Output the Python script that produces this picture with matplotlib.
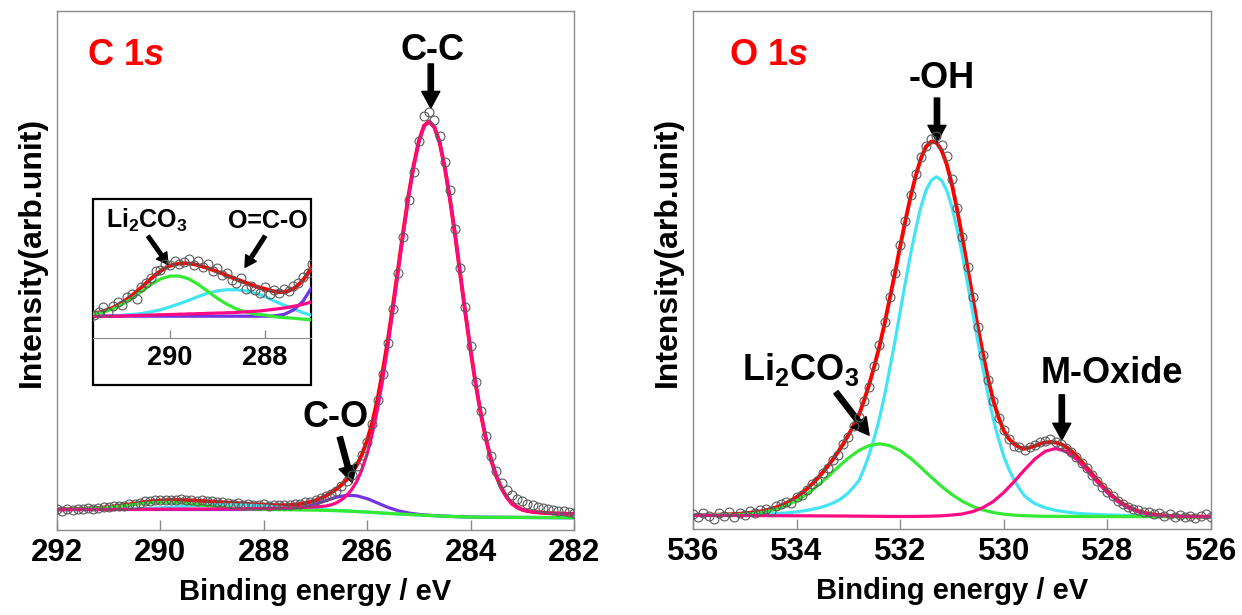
import numpy as np
import matplotlib
matplotlib.use('Agg')
import matplotlib.pyplot as plt
from matplotlib import font_manager as fm
from matplotlib.patches import Rectangle

# narrow bold font like the original (Arial Narrow); fall back if missing
try:
    fm.findfont(fm.FontProperties(family='Liberation Sans Narrow'), fallback_to_default=False)
    FONT, K = 'Liberation Sans Narrow', 1.15
except ValueError:
    FONT, K = 'Liberation Sans', 1.0

plt.rcParams['font.family'] = [FONT, 'DejaVu Sans']
plt.rcParams['font.weight'] = 'bold'
plt.rcParams['axes.labelweight'] = 'bold'
plt.rcParams['mathtext.fontset'] = 'custom'
plt.rcParams['mathtext.rm'] = FONT + ':bold'
plt.rcParams['mathtext.it'] = FONT + ':italic:bold'
plt.rcParams['mathtext.bf'] = FONT + ':bold'

# ---------------- C 1s ----------------
c1s_be = np.linspace(292, 282, 101)      # 0.1 eV steps
c1s_pts = [4.0, 3.7, 4.1, 3.9, 4.0, 4.1, 4.25, 4.1, 4.3, 4.45,
           4.35, 4.6, 4.7, 4.55, 4.95, 5.1, 5.25, 5.5, 5.55, 5.75,
           5.7, 5.85, 5.75, 5.8, 5.9, 5.7, 5.85, 5.65, 5.75, 5.5,
           5.6, 5.35, 5.45, 5.2, 5.1, 5.25, 4.9, 5.0, 4.85, 4.75,
           4.95, 4.7, 4.85, 4.75, 4.9, 4.8, 5.0, 5.1, 5.3, 5.45,
           5.75, 6.1, 6.5, 7.0, 7.6, 8.4, 9.4, 10.6, 12.3, 14.4,
           17.0, 20.5, 25.0, 30.0, 36.0, 42.5, 49.5, 56.5, 63.5, 69.0,
           75.0, 79.8, 80.5, 79.0, 76.0, 71.0, 65.5, 58.0, 50.5, 43.0,
           35.5, 28.5, 23.0, 18.2, 14.2, 11.3, 9.1, 7.7, 6.7, 6.0,
           5.5, 5.1, 4.8, 4.5, 4.3, 4.1, 3.9, 3.75, 3.6, 3.4,
           3.3]
c1s_fit = [3.97, 3.98, 4.00, 4.02, 4.05, 4.08, 4.12, 4.18, 4.24, 4.33,
           4.42, 4.54, 4.66, 4.80, 4.94, 5.09, 5.24, 5.38, 5.50, 5.60,
           5.68, 5.73, 5.76, 5.77, 5.76, 5.74, 5.70, 5.65, 5.60, 5.54,
           5.48, 5.42, 5.35, 5.28, 5.22, 5.16, 5.10, 5.04, 4.98, 4.93,
           4.89, 4.84, 4.80, 4.78, 4.78, 4.82, 4.90, 5.02, 5.19, 5.41,
           5.70, 6.10, 6.59, 7.17, 7.85, 8.65, 9.67, 10.9, 12.5, 14.6,
           17.3, 20.8, 25.2, 30.6, 36.6, 43.4, 50.5, 57.7, 64.5, 70.3,
           75.0, 77.9, 78.7, 77.6, 74.7, 69.9, 63.8, 56.9, 49.3, 41.7,
           34.6, 28.0, 22.3, 17.4, 13.4, 10.3, 8.0, 6.3, 5.1, 4.4,
           3.9, 3.65, 3.5, 3.4, 3.3, 3.25, 3.2, 3.17, 3.15, 3.12,
           3.1]
c1s_cc = [3.93, 3.93, 3.93, 3.94, 3.94, 3.94, 3.94, 3.95, 3.95, 3.95,
          3.96, 3.96, 3.97, 3.97, 3.98, 3.98, 3.99, 3.99, 4.00, 4.00,
          4.01, 4.01, 4.02, 4.02, 4.03, 4.03, 4.04, 4.04, 4.05, 4.05,
          4.06, 4.06, 4.07, 4.07, 4.08, 4.09, 4.10, 4.11, 4.12, 4.13,
          4.15, 4.17, 4.19, 4.21, 4.23, 4.26, 4.29, 4.32, 4.36, 4.40,
          4.46, 4.53, 4.62, 4.85, 5.2, 5.8, 6.6, 7.8, 9.4, 11.7,
          14.7, 18.6, 23.3, 29.0, 35.4, 42.5, 49.9, 57.3, 64.2, 70.1,
          74.9, 77.8, 78.7, 77.6, 74.7, 69.9, 63.8, 56.9, 49.3, 41.7,
          34.6, 28.0, 22.3, 17.4, 13.4, 10.3, 8.0, 6.3, 5.0, 4.3,
          3.9, 3.65, 3.5, 3.4, 3.3, 3.25, 3.2, 3.17, 3.15, 3.12,
          3.1]

c1s_be_c = np.linspace(292, 282, 51)     # 0.2 eV steps
c1s_co = [3.95, 3.95, 3.95, 3.95, 3.95, 3.95, 3.95, 3.95, 3.95, 3.95,
          3.95, 3.95, 3.95, 3.95, 3.95, 3.95, 3.95, 3.95, 3.95, 3.95,
          3.95, 3.96, 4.01, 4.16, 4.46, 4.98, 5.66, 6.31, 6.69, 6.59,
          6.04, 5.21, 4.36, 3.71, 3.28, 3.01, 2.83, 2.72, 2.63, 2.56,
          2.50, 2.46, 2.45, 2.44, 2.43, 2.42, 2.41, 2.40, 2.39, 2.38, 2.37]
c1s_ocoo = [3.95, 3.95, 3.95, 3.96, 3.97, 3.98, 4.01, 4.04, 4.10, 4.17,
            4.27, 4.38, 4.50, 4.63, 4.74, 4.82, 4.86, 4.86, 4.82, 4.74,
            4.63, 4.47, 4.33, 4.20, 4.07, 3.97, 3.87, 3.78, 3.68, 3.57,
            3.46, 3.34, 3.21, 3.10, 3.00, 2.90, 2.80, 2.70, 2.62, 2.55,
            2.50, 2.46, 2.45, 2.44, 2.43, 2.42, 2.41, 2.40, 2.39, 2.38, 2.37]
c1s_li = [3.97, 3.99, 4.02, 4.09, 4.20, 4.36, 4.56, 4.80, 5.04, 5.23,
          5.33, 5.33, 5.23, 5.04, 4.80, 4.56, 4.36, 4.20, 4.09, 4.02,
          3.99, 3.93, 3.90, 3.88, 3.85, 3.82, 3.78, 3.72, 3.65, 3.55,
          3.45, 3.33, 3.20, 3.10, 3.00, 2.90, 2.80, 2.70, 2.62, 2.55,
          2.50, 2.46, 2.45, 2.44, 2.43, 2.42, 2.41, 2.40, 2.39, 2.38, 2.37]

# ---------------- O 1s ----------------
o1s_be = np.linspace(536, 526, 101)
o1s_pts = [2.8, 2.3, 3.1, 2.5, 1.9, 3.0, 2.6, 3.3, 2.4, 3.0,
           2.7, 3.4, 3.0, 3.6, 3.9, 3.5, 4.4, 4.8, 5.3, 5.0,
           6.2, 6.6, 7.5, 8.6, 9.2, 10.8, 11.8, 13.4, 14.3, 16.4,
           17.8, 19.9, 21.6, 24.8, 27.5, 31.5, 35.5, 40.0, 44.8, 49.5,
           54.8, 59.5, 64.5, 68.5, 71.8, 74.0, 75.3, 75.8, 74.2, 72.0,
           67.5, 62.0, 56.4, 50.5, 44.8, 39.0, 33.5, 28.8, 24.8, 21.5,
           19.2, 17.3, 16.1, 15.8, 15.3, 15.9, 16.2, 16.7, 16.9, 17.3,
           16.8, 16.5, 15.6, 14.9, 13.9, 12.8, 11.7, 10.4, 9.3, 8.2,
           7.2, 6.3, 5.5, 4.8, 4.3, 3.8, 3.7, 3.2, 3.3, 2.9,
           3.0, 2.6, 2.9, 2.4, 2.7, 2.3, 2.6, 2.2, 2.5, 2.8,
           2.4]
o1s_fit = [2.70, 2.70, 2.71, 2.72, 2.74, 2.76, 2.80, 2.84, 2.89, 2.94,
           3.01, 3.11, 3.24, 3.40, 3.60, 3.85, 4.16, 4.54, 4.98, 5.54,
           6.16, 6.92, 7.74, 8.70, 9.71, 10.87, 12.09, 13.43, 14.87, 16.43,
           18.13, 20.02, 21.9, 24.75, 27.87, 31.41, 35.3, 39.71, 44.57, 49.45,
           54.6, 59.52, 64.13, 68.18, 71.57, 73.83, 74.79, 74.59, 73.09, 70.33,
           66.44, 61.57, 56.19, 50.37, 44.57, 38.83, 33.66, 28.82, 24.68, 21.5,
           18.98, 17.38, 16.4, 15.78, 15.48, 15.75, 16.03, 16.46, 16.68, 16.81,
           16.7, 16.41, 15.86, 15.09, 14.12, 13.04, 11.87, 10.68, 9.49, 8.35,
           7.31, 6.36, 5.54, 4.84, 4.28, 3.81, 3.45, 3.17, 2.95, 2.80,
           2.68, 2.60, 2.53, 2.49, 2.43, 2.42, 2.41, 2.40, 2.39, 2.38,
           2.37]
o1s_oh = [2.70, 2.70, 2.70, 2.71, 2.72, 2.73, 2.75, 2.76, 2.78, 2.79,
          2.80, 2.82, 2.85, 2.87, 2.90, 2.94, 2.98, 3.04, 3.10, 3.20,
          3.30, 3.45, 3.60, 3.80, 4.00, 4.28, 4.60, 5.00, 5.50, 6.15,
          7.00, 8.1, 9.3, 11.6, 14.3, 17.6, 21.4, 25.9, 31.0, 36.3,
          42.0, 47.6, 53.0, 57.9, 62.2, 65.4, 67.3, 68.0, 67.3, 65.3,
          62.1, 57.8, 52.9, 47.4, 41.8, 36.1, 30.8, 25.7, 21.1, 17.3,
          14.0, 11.5, 9.5, 7.8, 6.4, 5.6, 4.9, 4.5, 4.1, 3.85,
          3.6, 3.45, 3.3, 3.17, 3.05, 2.97, 2.90, 2.85, 2.80, 2.76,
          2.72, 2.69, 2.66, 2.63, 2.60, 2.58, 2.56, 2.54, 2.52, 2.50,
          2.48, 2.47, 2.45, 2.44, 2.43, 2.42, 2.41, 2.40, 2.39, 2.38,
          2.37]

o1s_be_c = np.linspace(536, 526, 51)
o1s_li = [2.65, 2.66, 2.67, 2.69, 2.75, 2.84, 3.02, 3.32, 3.79, 4.48,
          5.46, 6.73, 8.30, 10.07, 11.94, 13.70, 15.15, 16.10, 16.45, 16.10,
          15.12, 13.66, 11.87, 9.99, 8.21, 6.64, 5.35, 4.36, 3.66, 3.17,
          2.86, 2.67, 2.57, 2.50, 2.45, 2.44, 2.43, 2.42, 2.41, 2.41,
          2.40, 2.40, 2.39, 2.39, 2.38, 2.38, 2.37, 2.37, 2.36, 2.36, 2.35]
o1s_mo = [2.62, 2.62, 2.61, 2.61, 2.60, 2.60, 2.59, 2.58, 2.57, 2.56,
          2.55, 2.54, 2.53, 2.52, 2.51, 2.50, 2.48, 2.46, 2.44, 2.42,
          2.42, 2.42, 2.44, 2.48, 2.55, 2.70, 2.90, 3.36, 4.14, 5.34,
          7.06, 9.15, 11.42, 13.52, 15.01, 15.54, 15.0, 13.5, 11.4, 9.1,
          7.0, 5.3, 4.1, 3.3, 2.85, 2.6, 2.5, 2.45, 2.42, 2.4, 2.38]

RED = '#ff0000'
PINK = '#ff0a84'
PURPLE = '#7034e4'
GREEN = '#34ea34'
CYAN = '#44e4f4'
FRAME = '#8a8a8a'


def arrow(ax, start, tip, w=3.8, hw=13, hl=12):
    ax.annotate('', xy=tip, xytext=start, annotation_clip=False,
                arrowprops=dict(facecolor='k', edgecolor='k', width=w,
                                headwidth=hw, headlength=hl, shrink=0))


def style(ax, xlim, ticks):
    ax.set_xlim(*xlim)
    ax.set_ylim(0, 100)
    ax.set_yticks([])
    ax.set_xticks(ticks)
    for s in ax.spines.values():
        s.set_color(FRAME)
        s.set_linewidth(1.0)
    ax.tick_params(axis='x', direction='in', length=7, width=1, color=FRAME,
                   pad=6, labelsize=22.5 * K)
    ax.set_xlabel('Binding energy / eV', fontsize=21 * K, labelpad=7)
    ax.set_ylabel('Intensity(arb.unit)', fontsize=23 * K)
    ax.yaxis.set_label_coords(-0.02, 0.535)


def draw_c1s(ax, ms=6.4):
    ax.plot(c1s_be, c1s_fit, color=RED, lw=2.8, zorder=2)
    ax.plot(c1s_be_c, c1s_ocoo, color=CYAN, lw=2.3, zorder=3)
    ax.plot(c1s_be_c, c1s_co, color=PURPLE, lw=2.3, zorder=3)
    ax.plot(c1s_be_c, c1s_li, color=GREEN, lw=2.3, zorder=3)
    ax.plot(c1s_be, c1s_cc, color=PINK, lw=2.3, zorder=3)
    ax.plot(c1s_be, c1s_pts, 'o', ms=ms, mfc='none', mec='#5a5a5a', mew=0.8, zorder=4)


fig = plt.figure(figsize=(12.42, 6.15), dpi=100)
W, H = 1242, 615

# left panel: C 1s
ax1 = fig.add_axes([57 / W, 85 / H, 517 / W, 519 / H])
draw_c1s(ax1)
style(ax1, (292, 282), [292, 290, 288, 286, 284, 282])
ax1.text(291.42, 89.6, r'C 1$s$', color=RED, fontsize=26 * K, ha='left', va='baseline')
ax1.text(284.73, 90.6, 'C-C', fontsize=26 * K, ha='center', va='baseline')
arrow(ax1, (284.77, 89.8), (284.77, 81.3))
ax1.text(286.62, 19.8, 'C-O', fontsize=26 * K, ha='center', va='baseline')
arrow(ax1, (286.53, 17.9), (286.29, 9.1))

# inset with the 291.6-287 eV region
box = Rectangle((93 / W, 230 / H), 218 / W, 186 / H, transform=fig.transFigure,
                facecolor='white', edgecolor='black', lw=1.6, zorder=2)
fig.add_artist(box)
axin = fig.add_axes([93 / W, 277 / H, 218 / W, 139 / H])
axin.set_zorder(3)
axin.set_facecolor('none')
draw_c1s(axin)
axin.set_xlim(291.62, 287.03)
axin.set_ylim(3.2, 7.98)
axin.set_yticks([])
axin.set_xticks([290, 288])
for side in ['top', 'left', 'right']:
    axin.spines[side].set_visible(False)
axin.spines['bottom'].set_color(FRAME)
axin.tick_params(axis='x', direction='in', length=6, width=1, color=FRAME,
                 pad=5, labelsize=19.5 * K)
axin.text(290.48, 6.98, r'Li$_2$CO$_3$', fontsize=18 * K, ha='center', va='baseline')
axin.text(287.94, 6.98, 'O=C-O', fontsize=18 * K, ha='center', va='baseline')
arrow(axin, (290.46, 6.70), (290.04, 5.73), w=2.6, hw=9, hl=8)
arrow(axin, (288.0, 6.70), (288.42, 5.63), w=2.6, hw=9, hl=8)

# right panel: O 1s
ax2 = fig.add_axes([693 / W, 86 / H, 518 / W, 518 / H])
ax2.plot(o1s_be, o1s_fit, color=RED, lw=2.8, zorder=2)
ax2.plot(o1s_be, o1s_oh, color=CYAN, lw=2.3, zorder=3)
ax2.plot(o1s_be_c, o1s_li, color=GREEN, lw=2.3, zorder=3)
ax2.plot(o1s_be_c, o1s_mo, color=PINK, lw=2.3, zorder=3)
ax2.plot(o1s_be, o1s_pts, 'o', ms=6.4, mfc='none', mec='#5a5a5a', mew=0.8, zorder=4)
style(ax2, (536, 526), [536, 534, 532, 530, 528, 526])
ax2.text(535.3, 89.6, r'O 1$s$', color=RED, fontsize=26 * K, ha='left', va='baseline')
ax2.text(531.19, 85.1, '-OH', fontsize=26 * K, ha='center', va='baseline')
arrow(ax2, (531.29, 83.2), (531.29, 74.7))
ax2.text(533.93, 28.8, r'Li$_2$CO$_3$', fontsize=26 * K, ha='center', va='baseline')
arrow(ax2, (533.24, 26.4), (532.6, 18.1))
ax2.text(527.91, 28.2, 'M-Oxide', fontsize=26 * K, ha='center', va='baseline')
arrow(ax2, (528.88, 25.9), (528.88, 17.2))

fig.savefig('out.png', dpi=100)
